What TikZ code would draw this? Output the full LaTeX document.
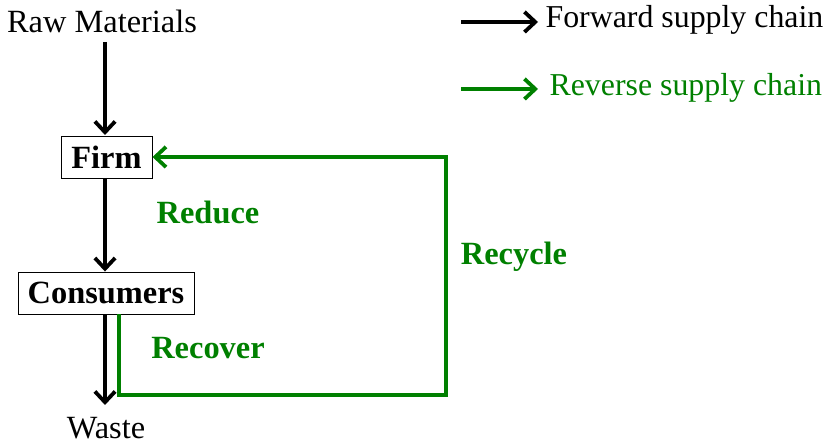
\documentclass[tikz,border=0pt]{standalone}
\usepackage{fontspec}
\setmainfont{Liberation Serif}
\usetikzlibrary{arrows.meta}
\definecolor{rgreen}{RGB}{0,128,0}
\begin{document}
\begin{tikzpicture}[x=0.3704pt,y=-0.3704pt,
  box/.style={draw,line width=0.35pt,font=\fontsize{12}{14}\selectfont\bfseries,inner sep=0pt,minimum height=42*0.3704pt},
  plain/.style={font=\fontsize{12}{14}\selectfont,inner sep=0pt},
  leg/.style={font=\fontsize{11.8}{14}\selectfont,inner sep=0pt},
  fwd/.style={line width=1.4pt,-{Straight Barb[length=4pt,width=7.5pt]}},
  rev/.style={line width=1.4pt,draw=rgreen,-{Straight Barb[length=4pt,width=7.5pt]}},
  glab/.style={font=\fontsize{12}{14}\selectfont\bfseries,text=rgreen,inner sep=0pt}]
\useasboundingbox (0,0) rectangle (826,446);
\node[plain] (raw) at (102,21) {Raw Materials};
\node[box,minimum width=91*0.3704pt] (firm) at (106.5,157) {Firm};
\node[box,minimum width=176*0.3704pt] (cons) at (106,293) {Consumers};
\node[plain] (waste) at (106,428) {Waste};
\coordinate (c1) at (119,395);
\coordinate (c2) at (446,395);
\coordinate (c3) at (446,157);
\draw[fwd] (105,42) -- (105,135);
\draw[fwd] (105,178) -- (cons.north -| 105,0);
\draw[fwd] (cons.south -| 105,0) -- (105,405);
\draw[rev] (cons.south -| c1) -- (c1) -- (c2) -- (c3) -- (firm.east);
\node[glab] (reduce) at (208,212) {Reduce};
\node[glab] (recycle) at (514,257) {Recycle};
\node[glab] (recover) at (208,348) {Recover};
\coordinate (l1a) at (461,22);
\coordinate (l1b) at (538,22);
\coordinate (l2a) at (461,89);
\coordinate (l2b) at (538,89);
\draw[fwd] (l1a) -- (l1b);
\draw[rev] (l2a) -- (l2b);
\node[leg,anchor=west] (fwdtext) at (545,20) {Forward supply chain};
\node[leg,anchor=west,text=rgreen] (revtext) at (549,88) {Reverse supply chain};
\end{tikzpicture}
\end{document}
